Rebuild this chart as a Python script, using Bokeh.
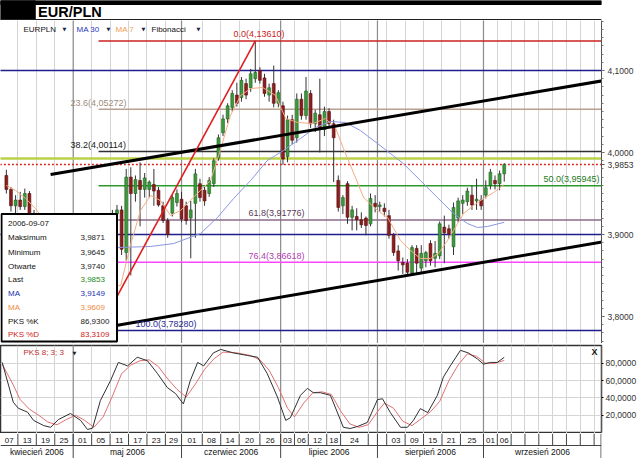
from bokeh.plotting import figure
from bokeh.layouts import column
from bokeh.models import Range1d, FixedTicker, ColumnDataSource, CustomJSTickFormatter
from bokeh.embed import file_html
from bokeh.resources import INLINE
from bokeh.core.properties import value

# ------------------------------------------------------------------ data
opens = [3.972, 3.955, 3.935, 3.942, 3.934, 3.950, 3.922, 3.912, 3.900, 3.892,
         3.898, 3.880, 3.884, 3.874, 3.862, 3.870, 3.858, 3.846, 3.852, 3.832,
         3.820, 3.812, 3.838, 3.860, 3.925, 3.930, 3.878, 3.970, 3.950, 3.966,
         3.955, 3.955, 3.961, 3.954, 3.935, 3.917, 3.926, 3.939, 3.943, 3.935,
         3.920, 3.938, 3.962, 3.954, 3.950, 3.962, 3.993, 4.024, 4.041, 4.055,
         4.070, 4.067, 4.084, 4.079, 4.090, 4.100, 4.091, 4.070, 4.084, 4.060,
         4.057, 3.995, 4.040, 4.018, 4.065, 4.045, 4.072, 4.035, 4.046, 4.028,
         4.050, 4.035, 3.966, 3.935, 3.962, 3.921, 3.922, 3.918, 3.920, 3.913,
         3.938, 3.934, 3.932, 3.923, 3.899, 3.880, 3.866, 3.865, 3.853, 3.883,
         3.859, 3.868, 3.889, 3.871, 3.874, 3.909, 3.907, 3.885, 3.920, 3.938,
         3.940, 3.948, 3.941, 3.942, 3.948, 3.960, 3.966, 3.962, 3.9740]
highs = [3.979, 3.958, 3.948, 3.952, 3.956, 3.953, 3.930, 3.918, 3.910, 3.905,
         3.902, 3.890, 3.892, 3.882, 3.875, 3.878, 3.866, 3.858, 3.856, 3.842,
         3.828, 3.845, 3.868, 3.930, 3.936, 3.935, 3.980, 3.982, 3.972, 3.988,
         3.975, 3.966, 3.980, 3.958, 3.940, 3.920, 3.948, 3.955, 3.952, 3.940,
         3.941, 3.980, 3.968, 3.958, 3.970, 3.993, 4.022, 4.046, 4.060, 4.076,
         4.085, 4.092, 4.090, 4.102, 4.1361, 4.104, 4.096, 4.084, 4.106, 4.076,
         4.062, 4.045, 4.046, 4.072, 4.072, 4.092, 4.076, 4.052, 4.090, 4.056,
         4.054, 4.040, 3.972, 3.948, 3.965, 3.935, 3.932, 3.927, 3.922, 3.950,
         3.948, 3.940, 3.938, 3.930, 3.902, 3.887, 3.872, 3.870, 3.887, 3.887,
         3.887, 3.880, 3.893, 3.892, 3.916, 3.923, 3.912, 3.939, 3.945, 3.948,
         3.957, 3.960, 3.968, 3.948, 3.966, 3.980, 3.972, 3.978, 3.9871]
lows = [3.950, 3.928, 3.925, 3.930, 3.930, 3.918, 3.905, 3.895, 3.885, 3.880,
        3.875, 3.865, 3.870, 3.858, 3.852, 3.855, 3.840, 3.835, 3.826, 3.805,
        3.7828, 3.808, 3.832, 3.855, 3.888, 3.875, 3.868, 3.850, 3.940, 3.910,
        3.945, 3.945, 3.935, 3.934, 3.914, 3.896, 3.922, 3.934, 3.915, 3.912,
        3.871, 3.896, 3.940, 3.935, 3.946, 3.958, 3.990, 4.020, 4.036, 4.050,
        4.056, 4.062, 4.065, 4.074, 4.085, 4.084, 4.068, 4.062, 4.055, 4.055,
        3.985, 3.988, 4.010, 4.012, 4.040, 4.040, 4.030, 4.025, 4.000, 4.020,
        4.030, 3.964, 3.928, 3.925, 3.913, 3.905, 3.905, 3.908, 3.899, 3.910,
        3.927, 3.928, 3.922, 3.895, 3.874, 3.856, 3.852, 3.850, 3.852, 3.853,
        3.852, 3.860, 3.862, 3.860, 3.870, 3.865, 3.895, 3.875, 3.915, 3.925,
        3.935, 3.930, 3.930, 3.930, 3.944, 3.955, 3.955, 3.954, 3.9645]
closes = [3.955, 3.935, 3.942, 3.934, 3.950, 3.922, 3.912, 3.900, 3.892, 3.898,
          3.880, 3.884, 3.874, 3.862, 3.870, 3.858, 3.846, 3.852, 3.832, 3.815,
          3.812, 3.838, 3.860, 3.925, 3.930, 3.882, 3.970, 3.950, 3.967, 3.955,
          3.969, 3.964, 3.953, 3.936, 3.917, 3.900, 3.945, 3.950, 3.919, 3.917,
          3.930, 3.974, 3.945, 3.941, 3.966, 3.990, 4.018, 4.041, 4.057, 4.072,
          4.060, 4.088, 4.070, 4.096, 4.0976, 4.088, 4.072, 4.079, 4.060, 4.073,
          3.992, 4.040, 4.015, 4.065, 4.045, 4.075, 4.035, 4.048, 4.030, 4.050,
          4.035, 4.018, 3.933, 3.945, 3.921, 3.930, 3.918, 3.912, 3.911, 3.944,
          3.934, 3.936, 3.928, 3.899, 3.878, 3.868, 3.863, 3.854, 3.884, 3.865,
          3.877, 3.878, 3.868, 3.877, 3.913, 3.902, 3.901, 3.933, 3.941, 3.942,
          3.953, 3.936, 3.943, 3.935, 3.957, 3.976, 3.962, 3.974, 3.9853]
day_idx = list(range(len(closes)))

ma7_x = [0.0, 2.0, 4.2, 6.3, 10.0, 15.0, 20.0, 24.8, 26.9, 29.1, 31.3, 33.4, 35.6,
         37.8, 39.9, 42.1, 44.3, 46.4, 48.6, 50.8, 53.0, 55.6, 58.4, 60.6, 63.2,
         66.6, 69.2, 71.4, 73.1, 74.6, 77.5, 80.5, 82.7, 85.5, 87.7, 89.8, 92.0,
         93.7, 95.7, 97.0, 99.2, 101.3, 103.5, 105.7, 108.0]
ma7_y = [3.9598, 3.9537, 3.9439, 3.9317, 3.905, 3.875, 3.835, 3.8378, 3.8866,
         3.9293, 3.9476, 3.9415, 3.9232, 3.9293, 3.9415, 3.9537, 3.9659, 4.0024,
         4.0451, 4.0695, 4.0780, 4.0793, 4.0695, 4.0415, 4.0366, 4.0354, 4.0415,
         4.0300, 4.0050, 3.9850, 3.9450, 3.9293, 3.9207, 3.8927, 3.8805, 3.8707,
         3.8707, 3.8768, 3.8927, 3.9049, 3.9256, 3.9354, 3.9439, 3.9512, 3.9609]
ma30_x = [0.0, 8.0, 16.0, 24.1, 31.3, 36.3, 42.1, 45.8, 49.3, 53.0, 56.6, 60.1, 63.8,
          67.1, 70.3, 73.6, 76.8, 80.5, 86.1, 89.8, 93.5, 97.0, 100.0, 102.2, 104.4,
          108.0]
ma30_y = [3.908, 3.900, 3.892, 3.8841, 3.8854, 3.8890, 3.9012, 3.9207, 3.9439,
          3.9659, 3.9902, 4.0024, 4.0171, 4.0305, 4.0378, 4.0366, 4.0268, 4.0110,
          3.9866, 3.9659, 3.9451, 3.9256, 3.9134, 3.9085, 3.9098, 3.9149]

stoch_k_x = [-0.9, 1.5, 2.6, 4.6, 5.9, 8.1, 9.6, 11.3, 13.9, 16.1, 17.6, 18.7, 20.4,
             22.6, 24.3, 26.3, 28.4, 30.6, 32.8, 34.9, 36.7, 38.4, 39.9, 41.5, 42.8,
             44.9, 46.5, 49.3, 52.3, 54.5, 56.6, 58.8, 60.6, 61.6, 63.8, 65.3, 66.6,
             68.1, 70.3, 73.1, 74.6, 76.2, 78.3, 80.5, 81.6, 83.3, 85.5, 87.0, 88.3,
             89.8, 91.4, 93.5, 94.8, 96.3, 98.5, 100.2, 102.2, 103.5, 105.0, 106.5,
             108.0]
stoch_k = [81, 35, 28, 23.5, 14, 8, 6, 15, 22, 14, 3.5, 5, 37, 60, 81, 77, 87, 83,
           68, 52, 45, 33, 60, 81, 77, 92, 96, 92, 89, 87, 68, 41, 14, 17, 43, 51,
           46, 46, 43, 6, 4.6, 7, 11.6, 38, 39, 23, 6, 6, 14, 27.6, 23, 43, 64, 77,
           95, 92, 85, 79, 81, 81, 86.93]
stoch_d_x = [-0.9, 1.5, 3.0, 5.0, 7.0, 9.0, 11.0, 13.0, 15.0, 17.0, 19.0, 21.0, 23.0,
             25.0, 27.0, 29.0, 31.0, 33.0, 35.0, 37.0, 39.0, 41.0, 43.0, 45.0, 47.0,
             50.0, 53.0, 55.0, 57.0, 59.0, 61.0, 62.5, 64.5, 66.5, 68.5, 70.5, 72.5,
             74.5, 76.5, 78.5, 80.5, 82.0, 84.0, 86.0, 88.0, 90.0, 92.0, 94.0, 96.0,
             98.0, 100.0, 102.0, 104.0, 106.0, 108.0]
stoch_d = [79, 55, 38, 27, 20, 12, 9, 15, 20, 14, 6, 18, 42, 68, 78, 83, 84, 76, 62,
           50, 41, 56, 73, 85, 93, 92, 89, 84, 72, 52, 28, 18, 34, 46, 47, 44, 25, 10,
           6, 9, 24, 34, 28, 13, 8, 16, 24, 36, 60, 78, 91, 88, 80, 80, 83.31]

fib_levels = [0.0, 23.6, 38.2, 50.0, 61.8, 76.4, 100.0]
fib_values = [4.13610, 4.05272, 4.00114, 3.95945, 3.91776, 3.86618, 3.78280]
fib_low_idx, fib_high_idx = 20, 54
support_levels = [4.1000, 3.9000]
stop_level = 3.9927
last_price = 3.9853
price_ticks = [3.8, 3.9, 4.0, 4.1]

trend_upper_x, trend_upper_y = [9.6, 130.0], [3.9732, 4.0881]
trend_lower_x, trend_lower_y = [20.0, 130.0], [3.7854, 3.8917]

day_bounds = [2.5, 6.5, 10.5, 14.5, 18.5, 22.5, 26.5, 30.5, 34.5, 38.0, 42.5, 46.5,
              50.5, 55.0, 59.5, 62.5, 65.5, 69.5, 72.5, 78.5, 80.5, 82.5, 86.5, 90.5,
              94.5, 98.5, 103.5, 106.5, 109.5, 112.5, 115.5, 118.5, 121.5, 124.5, 127.5]
day_labels = ["07", "13", "19", "25", "01", "05", "11", "17", "23", "29", "01", "08",
              "14", "20", "26", "03", "06", "12", "18", "24", "", "", "03", "09", "15",
              "21", "25", "01", "06", "", "", "", "", "", "", ""]
month_bounds = [14.5, 38.0, 59.5, 80.5, 103.5]
month_labels = ["kwiecień 2006", "maj 2006", "czerwiec 2006", "lipiec 2006",
                "sierpień 2006", "wrzesień 2006"]

info_date = "2006-09-07"
info_labels = ["Maksimum", "Minimum", "Otwarte", "Last", "MA", "MA", "PKS %K", "PKS %D"]
info_values = ["3,9871", "3,9645", "3,9740", "3,9853", "3,9149", "3,9609", "86,9300", "83,3109"]

legend_texts = ["EURPLN", "MA 30", "MA 7", "Fibonacci"]

# ------------------------------------------------------------------ geometry helpers
X_LEFT, X_RIGHT = -1.271, 129.10
PX0, PXS = 5.86, 4.61


def ix(px):
    return (px - PX0) / PXS


def pv(py):
    return 4.0 + (152.0 - py) / 820.0


def sv(py):
    return (432.0 - py) / 0.865


FONT = value("Liberation Sans")
xr = Range1d(X_LEFT, X_RIGHT)
tick_fmt = CustomJSTickFormatter(code="return tick.toFixed(4).replace('.', ',');")

# ------------------------------------------------------------------ title strip
t = figure(width=640, height=20, x_range=Range1d(0, 640), y_range=Range1d(20, 0),
           toolbar_location=None, output_backend="svg", x_axis_location=None,
           y_axis_location=None, min_border=0)
t.grid.visible = False
t.outline_line_color = None
t.quad(left=[0, 0], right=[640, 37], top=[0, 0], bottom=[4, 19], color="black")
t.segment(x0=[0], y0=[19.2], x1=[640], y1=[19.2], line_color="#222222", line_width=1.6)
t.text(x=[40], y=[11.6], text=["EUR/PLN"], text_font=FONT, text_font_style="bold",
       text_font_size=value("14.5px"), text_baseline="middle", text_color="black")

# ------------------------------------------------------------------ main price panel
p = figure(width=640, height=323, x_range=xr, y_range=Range1d(pv(343), pv(20)),
           toolbar_location=None, output_backend="svg", x_axis_location=None,
           y_axis_location="right", min_border=0, min_border_right=39)
p.outline_line_color = None
p.ygrid.visible = False
p.xgrid.ticker = FixedTicker(ticks=day_bounds)
p.xgrid.grid_line_color = "#d4d4d4"
# price axis; the last price is shown as an extra label on the axis
p.yaxis.ticker = FixedTicker(ticks=price_ticks + [last_price],
                             minor_ticks=[round(3.77 + 0.01 * k, 2) for k in range(40)])
p.yaxis.formatter = tick_fmt
p.yaxis.major_label_text_font_size = "8.5px"
p.yaxis.major_label_text_font = "Liberation Sans"
p.yaxis.major_label_text_color = "#333333"
p.yaxis.major_label_standoff = 3
p.yaxis.axis_line_color = "#555555"
p.yaxis.major_tick_out = 3
p.yaxis.major_tick_in = 0
p.yaxis.minor_tick_out = 2
p.yaxis.minor_tick_in = 0
p.yaxis.major_tick_line_color = "#555555"
p.yaxis.minor_tick_line_color = "#777777"

# month separators
p.segment(x0=month_bounds, x1=month_bounds, y0=[3.7] * 5, y1=[4.2] * 5,
          line_color="#8c8c8c", line_width=1.2)

# horizontal support lines, stop line, last price
p.segment(x0=[X_LEFT - 1] * 2, x1=[X_RIGHT + 1] * 2, y0=support_levels, y1=support_levels,
          line_color="#1e1e8c", line_width=1.6)
p.segment(x0=[X_LEFT - 1], x1=[X_RIGHT + 1], y0=[stop_level], y1=[stop_level],
          line_color="#b9d24a", line_width=2.6)
p.segment(x0=[X_LEFT - 1], x1=[X_RIGHT + 1], y0=[last_price], y1=[last_price],
          line_color="#e02020", line_width=1.5, line_dash="2 2")

# Fibonacci levels
fib_line_colors = ["#cc2222", "#b8a090", "#303030", "#2a9a2a", "#8a6a8a", "#ff44ff", "#1e1e8c"]
fib_text_colors = ["#cc2222", "#a08a7a", "#202020", "#1a7a1a", "#5a3a5a", "#b040b0", "#2a2a90"]
p.segment(x0=[fib_low_idx] * 7, x1=[X_RIGHT + 1] * 7, y0=fib_values, y1=fib_values,
          line_color=fib_line_colors, line_width=1.5)

# candles
tops = [max(o, c) for o, c in zip(opens, closes)]
bots = [min(o, c) for o, c in zip(opens, closes)]
fills = ["#3c9a3c" if c >= o else "#8b1e1e" for o, c in zip(opens, closes)]
edges = ["#1f5f1f" if c >= o else "#5a0c0c" for o, c in zip(opens, closes)]
src = ColumnDataSource(dict(x=day_idx, h=highs, l=lows, top=tops, bot=bots,
                            fill=fills, edge=edges))
p.segment(x0="x", x1="x", y0="l", y1="h", source=src, line_color="#333333", line_width=1)
p.vbar(x="x", width=0.62, top="top", bottom="bot", source=src, fill_color="fill",
       line_color="edge", line_width=0.6)

# moving averages
p.line(ma30_x, ma30_y, line_color="#8a96e2", line_width=1.0)
p.line(ma7_x, ma7_y, line_color="#f4ab80", line_width=1.0)

# trend lines and fib swing
p.line(trend_upper_x, trend_upper_y, line_color="black", line_width=3)
p.line(trend_lower_x, trend_lower_y, line_color="black", line_width=3)
p.line([fib_low_idx, fib_high_idx], [fib_values[-1], fib_values[0]],
       line_color="#e02020", line_width=1.6)

# fib labels
fib_label_px = [233, 70, 70, 543, 248, 248, 135]
fib_label_py = [33, 102.5, 144.5, 178, 212, 255, 323.5]
fib_texts = ["%.1f(%s)" % (lv, ("%.5f" % v).replace(".", ",")) for lv, v in zip(fib_levels, fib_values)]
p.text(x=[ix(a) for a in fib_label_px], y=[pv(b) for b in fib_label_py], text=fib_texts,
       text_color=fib_text_colors, text_font=FONT, text_font_size=value("9px"),
       text_baseline="middle", text_align="left")

# legend row
leg_px = [23, 76, 115, 151]
leg_colors = ["#111111", "#2838c0", "#f0a050", "#111111"]
p.text(x=[ix(a) for a in leg_px], y=[pv(28.5)] * 4, text=legend_texts, text_color=leg_colors,
       text_font=FONT, text_font_size=value("8px"), text_baseline="middle")
arrow_px = [62, 106, 141, 196]
p.text(x=[ix(a) for a in arrow_px], y=[pv(28.5)] * 4, text=["▼"] * 4, text_color="#222244",
       text_font=value("DejaVu Sans"), text_font_size=value("5px"), text_baseline="middle")

# info box
p.quad(left=[ix(1)], right=[ix(116.5)], top=[pv(213.5)], bottom=[pv(341)],
       fill_color="white", line_color="black", line_width=2)
row_py = [236.7, 251.7, 265.7, 279.3, 293.3, 307.3, 321, 334.3]
lab_colors = ["#111111", "#111111", "#111111", "#111111", "#2030b0", "#f08a40", "#111111", "#d02020"]
val_colors = ["#222222", "#222222", "#222222", "#1a8a1a", "#2030b0", "#f08a40", "#222222", "#d02020"]
p.text(x=[ix(7.5)], y=[pv(223.3)], text=[info_date], text_font=FONT,
       text_font_size=value("8px"), text_baseline="middle", text_color="#111111")
p.text(x=[ix(7.5)] * 8, y=[pv(b) for b in row_py], text=info_labels, text_color=lab_colors,
       text_font=FONT, text_font_size=value("8px"), text_baseline="middle")
p.text(x=[ix(80)] * 8, y=[pv(b) for b in row_py], text=info_values, text_color=val_colors,
       text_font=FONT, text_font_size=value("8px"), text_baseline="middle")

# ------------------------------------------------------------------ stochastic panel
s = figure(width=640, height=90, x_range=xr, y_range=Range1d(sv(433), sv(345)),
           toolbar_location=None, output_backend="svg", x_axis_location=None,
           y_axis_location="right", min_border=0, min_border_right=39, min_border_top=2)
s.outline_line_color = "#333333"
s.outline_line_width = 1.5
s.xgrid.ticker = FixedTicker(ticks=day_bounds)
s.xgrid.grid_line_color = "#d4d4d4"
s.ygrid.ticker = FixedTicker(ticks=[20, 40, 60, 80])
s.ygrid.grid_line_color = "#d4d4d4"
s.yaxis.ticker = FixedTicker(ticks=[20, 40, 60, 80])
s.yaxis.formatter = tick_fmt
s.yaxis.major_label_text_font_size = "8.5px"
s.yaxis.major_label_text_font = "Liberation Sans"
s.yaxis.major_label_text_color = "#333333"
s.yaxis.major_label_standoff = 2
s.yaxis.axis_line_color = "#555555"
s.yaxis.major_tick_out = 2
s.yaxis.major_tick_in = 0
s.yaxis.minor_tick_line_color = None
s.segment(x0=month_bounds, x1=month_bounds, y0=[-5] * 5, y1=[105] * 5,
          line_color="#8c8c8c", line_width=1.2)
s.line(stoch_d_x, stoch_d, line_color="#e07070", line_width=1)
s.line(stoch_k_x, stoch_k, line_color="#303030", line_width=1)
s.text(x=[ix(23)], y=[sv(352)], text=["PKS 8; 3; 3"], text_color="#c03030", text_font=FONT,
       text_font_size=value("8px"), text_baseline="middle")
s.text(x=[ix(72)], y=[sv(352)], text=["▼"], text_color="#222222",
       text_font=value("DejaVu Sans"), text_font_size=value("5px"), text_baseline="middle")
s.text(x=[ix(594)], y=[sv(351.5)], text=["X"], text_color="#111111", text_font=FONT,
       text_font_style="bold", text_font_size=value("9px"), text_baseline="middle",
       text_align="center")

# ------------------------------------------------------------------ date strip
d = figure(width=640, height=25, x_range=xr, y_range=Range1d(458, 433),
           toolbar_location=None, output_backend="svg", x_axis_location=None,
           y_axis_location=None, min_border=0, min_border_right=39)
d.grid.visible = False
d.outline_line_color = None
d.segment(x0=day_bounds, x1=day_bounds, y0=[433] * len(day_bounds), y1=[445] * len(day_bounds),
          line_color="#444444", line_width=1)
d.segment(x0=month_bounds, x1=month_bounds, y0=[433] * 5, y1=[458] * 5,
          line_color="#444444", line_width=1)
d.segment(x0=[X_LEFT, X_RIGHT - 0.1], x1=[X_RIGHT, X_RIGHT - 0.1], y0=[445, 433], y1=[445, 458],
          line_color="#444444", line_width=1)
box_edges = [X_LEFT] + day_bounds + [X_RIGHT]
day_centers = [(a + b) / 2 for a, b in zip(box_edges[:-1], box_edges[1:])]
d.text(x=day_centers, y=[439.5] * len(day_centers), text=day_labels, text_font=FONT,
       text_font_size=value("8px"), text_baseline="middle", text_align="center",
       text_color="#111111")
m_edges = [X_LEFT] + month_bounds + [X_RIGHT]
m_centers = [(a + b) / 2 for a, b in zip(m_edges[:-1], m_edges[1:])]
d.text(x=m_centers, y=[451.5] * len(m_centers), text=month_labels, text_font=FONT,
       text_font_size=value("8.5px"), text_baseline="middle", text_align="center",
       text_color="#111111")

layout = column(t, p, s, d)
open("out.html", "w").write(file_html(layout, INLINE))
